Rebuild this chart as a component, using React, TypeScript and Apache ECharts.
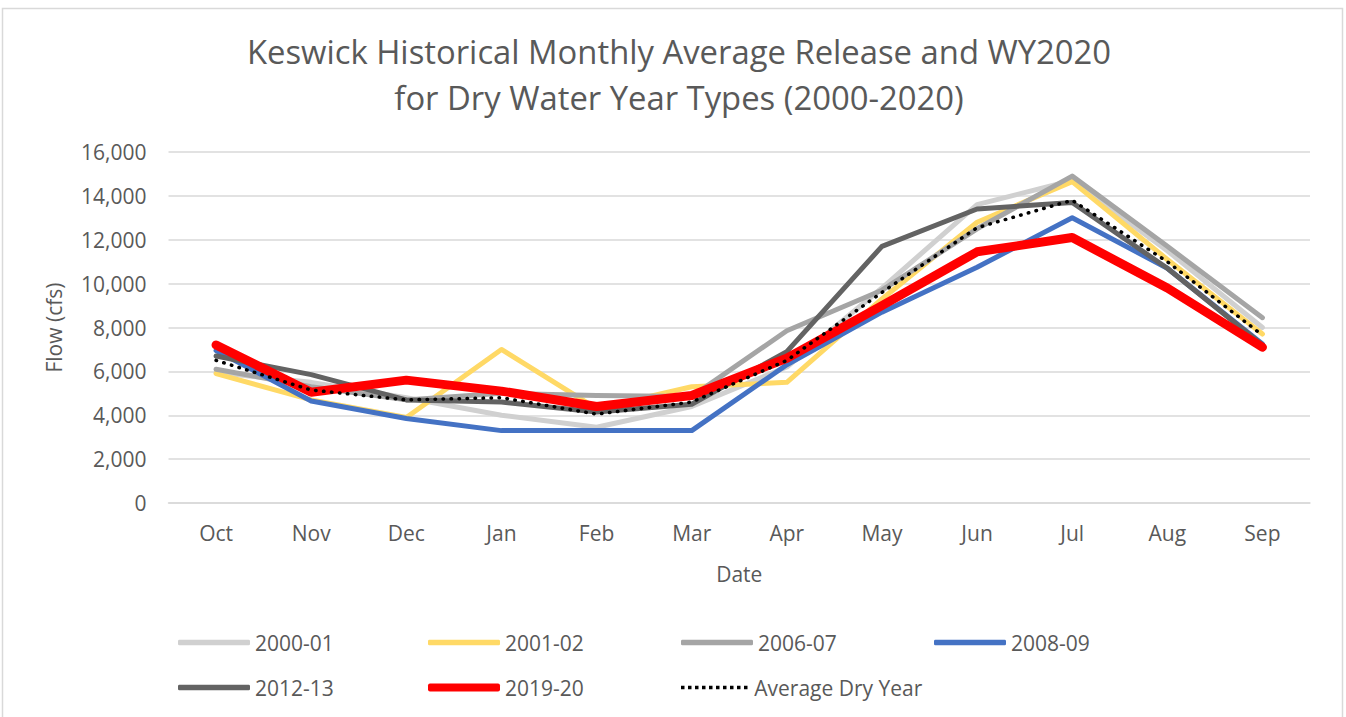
import React, { useEffect, useRef } from "react";
import * as echarts from "echarts";

const months = ["Oct", "Nov", "Dec", "Jan", "Feb", "Mar", "Apr", "May", "Jun", "Jul", "Aug", "Sep"];
const yTicks = [0, 2000, 4000, 6000, 8000, 10000, 12000, 14000, 16000];

const wy2000_01 = [5950, 5500, 4800, 4000, 3450, 4400, 6200, 9800, 13600, 14700, 11500, 8000];
const wy2001_02 = [5900, 4700, 3900, 7000, 4300, 5300, 5500, 9300, 12800, 14650, 11100, 7700];
const wy2006_07 = [6100, 5300, 4700, 5000, 4900, 4850, 7850, 9700, 12500, 14900, 11700, 8450];
const wy2008_09 = [6950, 4650, 3850, 3300, 3300, 3300, 6300, 8700, 10750, 13000, 10700, 7250];
const wy2012_13 = [6700, 5850, 4700, 4600, 4150, 4500, 6900, 11700, 13400, 13700, 10700, 7200];
const wy2019_20 = [7200, 5050, 5600, 5100, 4400, 4900, 6600, 9000, 11450, 12100, 9800, 7100];
const avgDry = [6500, 5150, 4700, 4800, 4050, 4600, 6500, 9600, 12550, 13800, 11000, 7650];

const seriesNames = ["2000-01", "2001-02", "2006-07", "2008-09", "2012-13", "2019-20", "Average Dry Year"];
const seriesData = [wy2000_01, wy2001_02, wy2006_07, wy2008_09, wy2012_13, wy2019_20, avgDry];
const seriesColors = ["#d0d0d0", "#ffd966", "#a5a5a5", "#4472c4", "#636363", "#ff0000", "#000000"];

const FONT = "'Open Sans', 'Noto Sans', sans-serif";
const TEXT = "#595959";

const dotPath = (() => {
  let d = "path://";
  for (let k = 0; k < 10; k++) {
    const x = k * 2;
    d += `M${x},0h1v1h-1z`;
  }
  return d;
})();

export default function App() {
  const ref = useRef<HTMLDivElement>(null);
  useEffect(() => {
    document.body.style.margin = "0";
    const chart = echarts.init(ref.current!, null, { renderer: "svg" });
    const legendPos = [
      [178, 632], [428, 632], [681, 632], [934, 632],
      [178, 677], [428, 677], [681, 677],
    ];
    const series = seriesNames.map((name, i) => {
      const isAvg = i === 6;
      const isRed = i === 5;
      return {
        name,
        type: "line",
        data: seriesData[i],
        symbol: "none",
        showSymbol: false,
        z: 2 + i,
        lineStyle: {
          color: seriesColors[i],
          width: isRed ? 9 : isAvg ? 3.5 : 5,
          type: isAvg ? [0.5, 7.5] : "solid",
          cap: "round",
          join: "round",
        },
        itemStyle: { color: seriesColors[i] },
      };
    });
    const legends = seriesNames.map((name, i) => {
      const isAvg = i === 6;
      const isRed = i === 5;
      return {
        data: [name],
        left: legendPos[i][0],
        top: legendPos[i][1],
        icon: isAvg ? dotPath : "roundRect",
        itemWidth: isAvg ? 70 : 72,
        itemHeight: isAvg ? 3.5 : isRed ? 8 : 5.5,
        padding: 0,
        itemStyle: { color: seriesColors[i], borderWidth: 0 },
        lineStyle: { width: 0, opacity: 0 },
        textStyle: { fontFamily: FONT, fontSize: 21, color: TEXT },
      };
    });
    chart.setOption({
      animation: false,
      backgroundColor: "#ffffff",
      title: {
        text: "Keswick Historical Monthly Average Release and WY2020\nfor Dry Water Year Types (2000-2020)",
        left: 674,
        top: 23,
        textAlign: "center",
        textStyle: {
          fontFamily: FONT,
          fontSize: 32.8,
          fontWeight: "normal",
          color: TEXT,
          lineHeight: 46,
          align: "center",
        },
      },
      legend: legends,
      grid: { left: 168.5, right: 36, top: 152, bottom: 214 },
      xAxis: {
        type: "category",
        data: months,
        boundaryGap: true,
        name: "Date",
        nameLocation: "middle",
        nameGap: 60,
        nameTextStyle: { fontFamily: FONT, fontSize: 21, color: TEXT },
        axisLine: { show: true, lineStyle: { color: "#d9d9d9", width: 1.5 } },
        axisTick: { show: false },
        axisLabel: { fontFamily: FONT, fontSize: 21, color: TEXT, margin: 19 },
      },
      yAxis: {
        type: "value",
        min: yTicks[0],
        max: yTicks[yTicks.length - 1],
        interval: 2000,
        name: "Flow (cfs)",
        nameLocation: "middle",
        nameGap: 104,
        nameTextStyle: { fontFamily: FONT, fontSize: 21, color: TEXT },
        axisLine: { show: false },
        axisTick: { show: false },
        splitLine: { lineStyle: { color: "#d9d9d9", width: 1.5 } },
        axisLabel: {
          fontFamily: FONT,
          fontSize: 21,
          color: TEXT,
          margin: 22,
          formatter: (v: number) => v.toLocaleString("en-US"),
        },
      },
      graphic: [
        {
          type: "rect",
          shape: { x: 2.5, y: 8.5, width: 1340, height: 800 },
          style: { fill: "none", stroke: "#d9d9d9", lineWidth: 1.5 },
          silent: true,
        },
      ],
      series,
    });
    return () => chart.dispose();
  }, []);
  return <div ref={ref} style={{ width: 1346, height: 717 }} />;
}
